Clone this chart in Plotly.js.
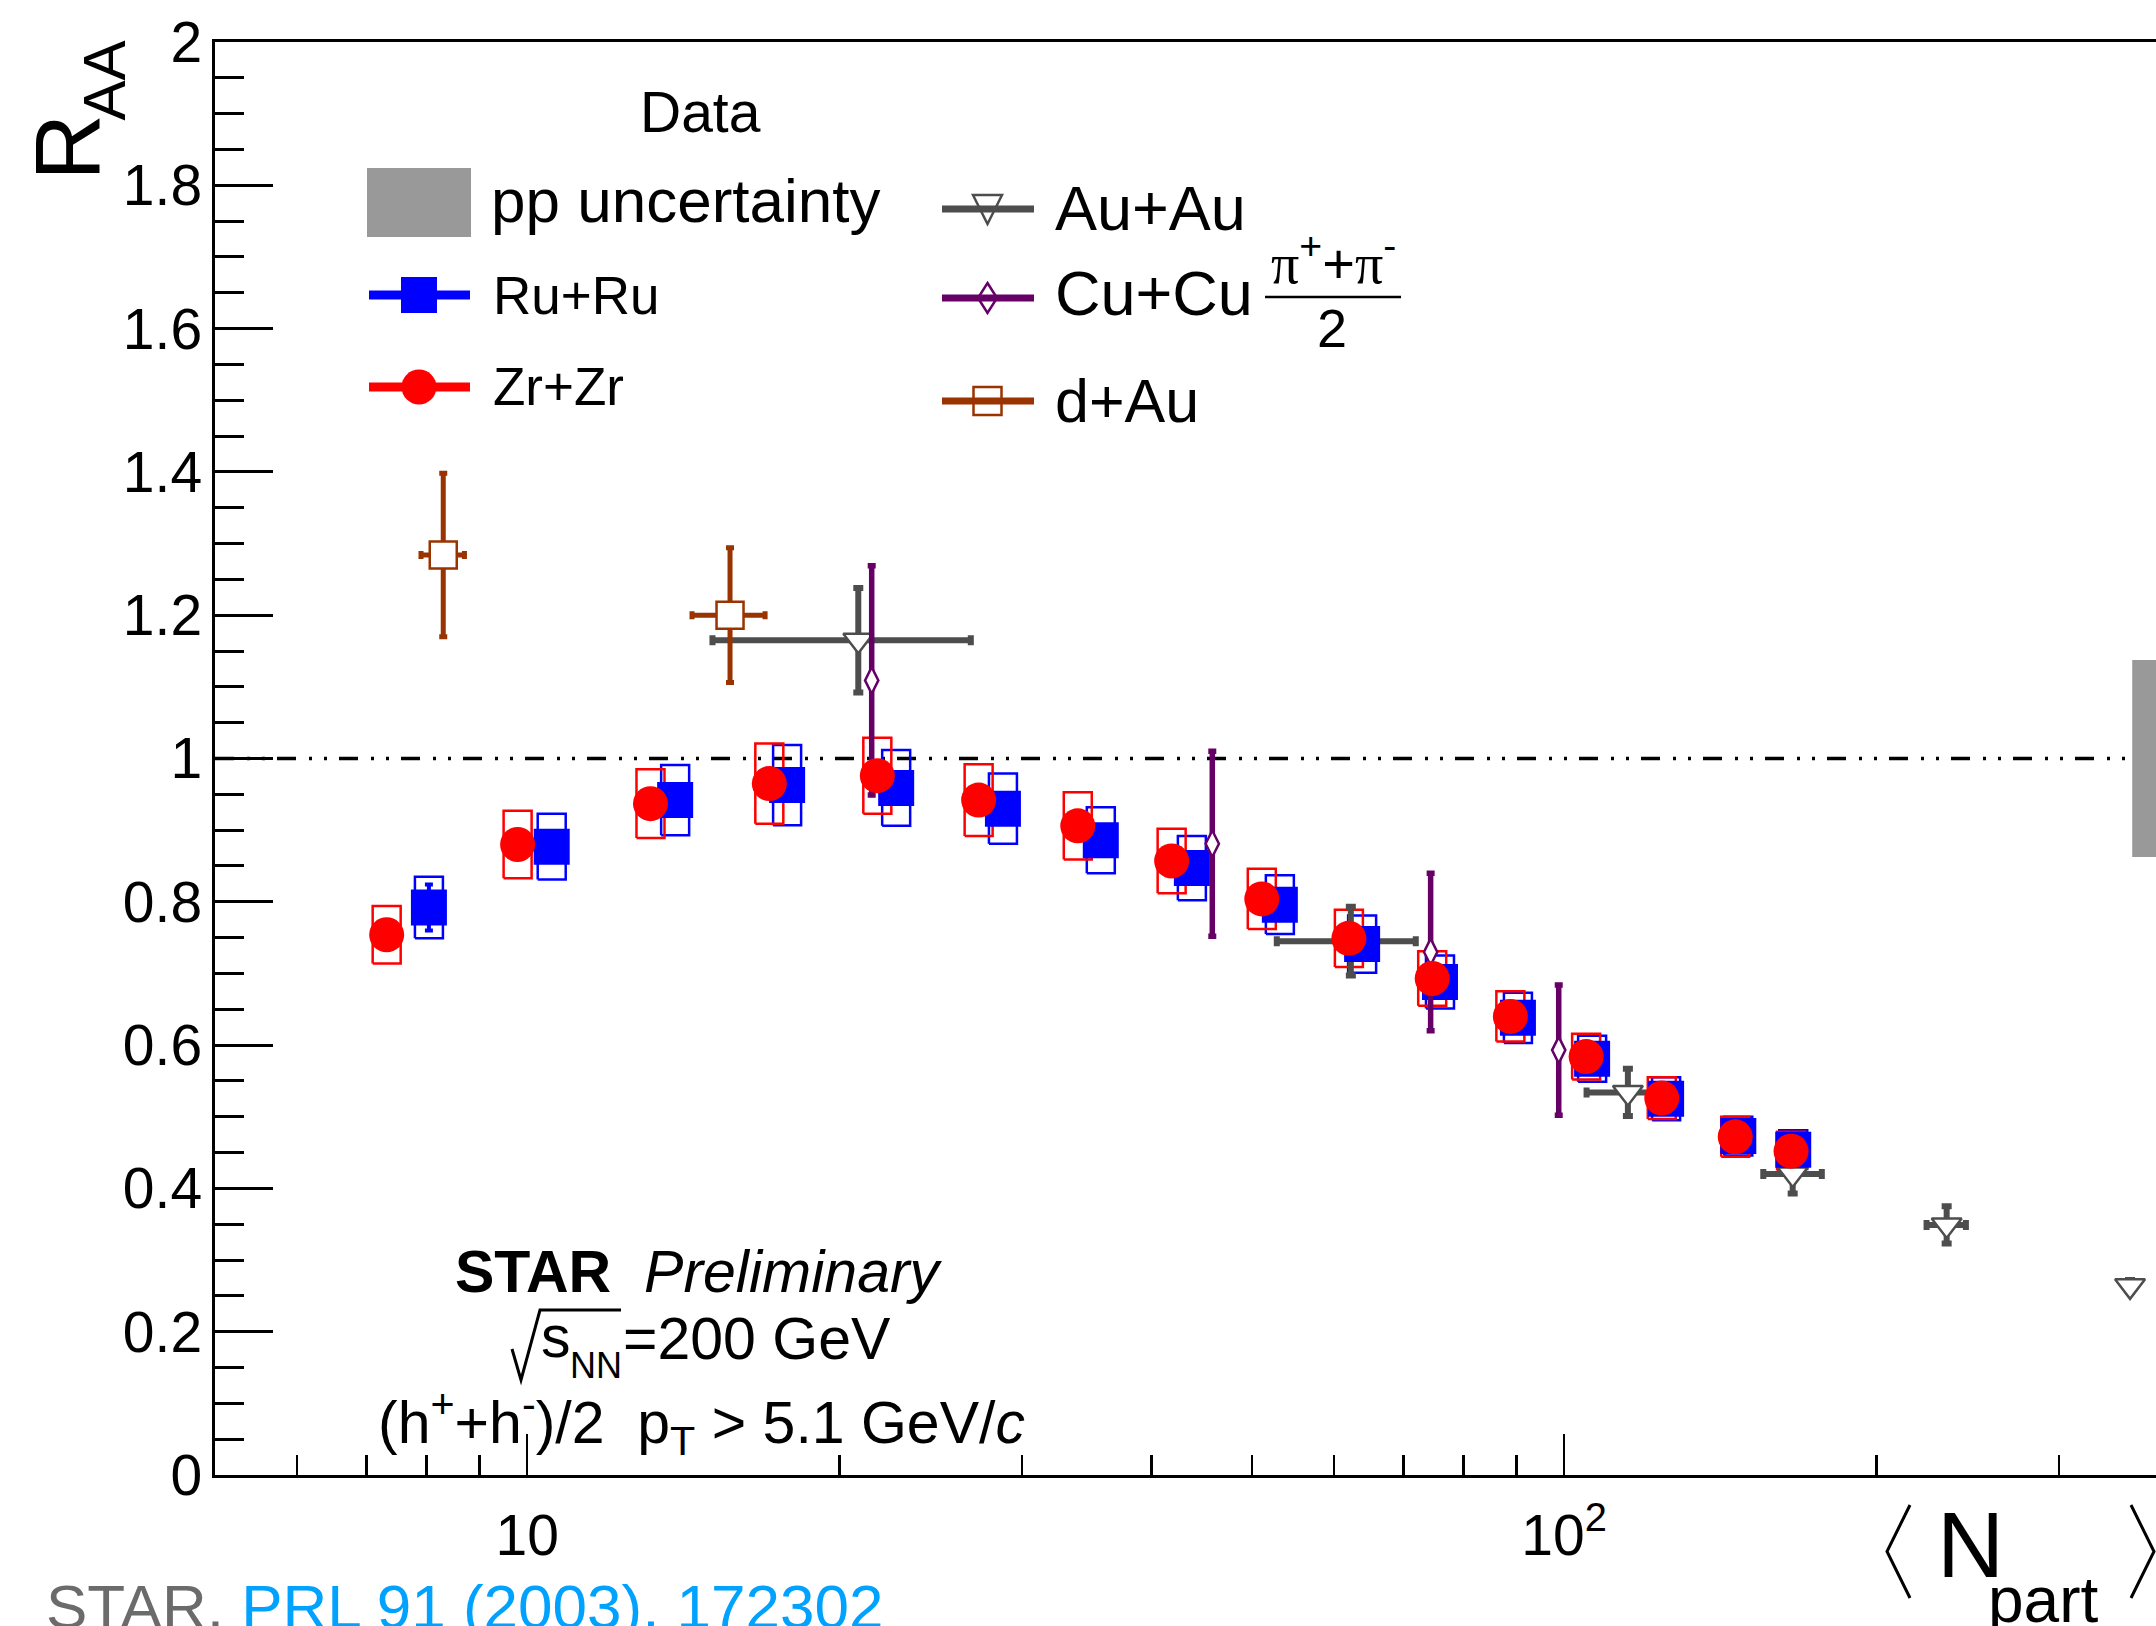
<!DOCTYPE html>
<html><head><meta charset="utf-8">
<script src="https://cdn.plot.ly/plotly-3.0.1.min.js"></script>
<style>html,body{margin:0;padding:0;background:#fff;overflow:hidden}</style>
</head><body><div id="chart" style="width:2156px;height:1626px"></div>
<script>
// ---------------- data ----------------
const ruNpart = [8.04, 10.56, 13.89, 17.81, 22.69, 28.76, 35.74, 43.75, 53.19, 63.85, 75.9, 90.24, 106.4, 125.4, 147.2, 166.3];
const ruRaa   = [0.792, 0.877, 0.942, 0.963, 0.959, 0.930, 0.886, 0.847, 0.796, 0.741, 0.688, 0.638, 0.581, 0.525, 0.473, 0.454];
const ruSys   = [0.043, 0.046, 0.049, 0.056, 0.053, 0.049, 0.046, 0.045, 0.041, 0.040, 0.037, 0.035, 0.032, 0.030, 0.027, 0.027];
const ruStat  = [0.032, 0.012, 0.012, 0.012, 0.012, 0.012, 0.011, 0.011, 0.010, 0.010, 0.009, 0.009, 0.008, 0.008, 0.007, 0.007];

const zrNpart = [7.32, 9.79, 13.15, 17.12, 21.76, 27.25, 33.96, 41.83, 51.1, 62.0, 74.6, 88.74, 105.0, 124.2, 146.2, 165.5];
const zrRaa   = [0.754, 0.880, 0.937, 0.965, 0.976, 0.942, 0.906, 0.857, 0.804, 0.749, 0.693, 0.640, 0.584, 0.526, 0.472, 0.452];
const zrSys   = [0.040, 0.047, 0.048, 0.056, 0.053, 0.050, 0.047, 0.045, 0.042, 0.040, 0.038, 0.035, 0.032, 0.029, 0.028, 0.027];
const zrStat  = [0.018, 0.012, 0.012, 0.012, 0.012, 0.012, 0.011, 0.011, 0.010, 0.010, 0.009, 0.009, 0.008, 0.008, 0.007, 0.007];

const auNpart      = [20.86, 62.27, 115.2, 166.1, 233.8, 351.3];
const auNpartErrLo = [5.77, 9.44, 10.1, 10.5, 10.2, 0];
const auNpartErrHi = [5.92, 9.66, 10.3, 11.1, 10.2, 0];
const auRaa        = [1.165, 0.745, 0.534, 0.420, 0.349, 0.264];
const auErr        = [0.073, 0.048, 0.033, 0.027, 0.026, 0.008];

const cuNpart = [21.49, 45.78, 74.34, 98.8];
const cuRaa   = [1.109, 0.881, 0.730, 0.593];
const cuErr   = [0.160, 0.129, 0.110, 0.091];

const dauNpart    = [8.30, 15.69];
const dauNpartErr = [0.40, 1.27];
const dauRaa      = [1.284, 1.200];
const dauErr      = [0.114, 0.094];

const ppNpartEdges = [353, 420];
const ppCenter = 1.0;
const ppUnc    = 0.1375;

const xTickVals  = [10, 100];
const xTickText  = ['10', '10<sup>2</sup>'];
const xMinorVals = [6, 7, 8, 9, 20, 30, 40, 50, 60, 70, 80, 90, 200, 300];

// ---------------- page geometry / styles ----------------
const W = 2156, H = 1626, L = 215, T = 42, R = 0, B = 151;
const PW = W - L - R, PH = H - T - B;
const px = x => (x - L) / PW;
const py = y => (H - B - y) / PH;
const SANS = 'Liberation Sans, Arial, Helvetica, sans-serif';
const NARROW = 'Liberation Sans Narrow, Liberation Sans, Arial, sans-serif';
const SERIF = 'Liberation Serif, Times New Roman, serif';
const C_RU = '#0000ff', C_ZR = '#ff0000', C_AU = '#4d4d4d', C_CU = '#660066', C_DAU = '#993300';

// systematic box half-width in decades (constant pixel width)
const XMIN = Math.log10(5), DECPX = 1037;
const XMAX = XMIN + PW / DECPX;
const boxHalf = 14 / DECPX;

function sysBoxes(xs, ys, es) {
  const bx = [], by = [];
  const f = Math.pow(10, boxHalf);
  xs.forEach((x, i) => {
    const x0 = x / f, x1 = x * f, y0 = ys[i] - es[i], y1 = ys[i] + es[i];
    bx.push(x0, x1, x1, x0, x0, null);
    by.push(y0, y0, y1, y1, y0, null);
  });
  return {bx, by};
}
const ruBox = sysBoxes(ruNpart, ruRaa, ruSys);
const zrBox = sysBoxes(zrNpart, zrRaa, zrSys);

const traces = [
  {x: ruBox.bx, y: ruBox.by, mode: 'lines', line: {color: C_RU, width: 2.5}, hoverinfo: 'skip', showlegend: false},
  {x: zrBox.bx, y: zrBox.by, mode: 'lines', line: {color: C_ZR, width: 2.5}, hoverinfo: 'skip', showlegend: false},
  {x: auNpart, y: auRaa, mode: 'markers', name: 'Au+Au',
   error_y: {type: 'data', array: auErr, color: C_AU, thickness: 6, width: 5},
   error_x: {type: 'data', array: auNpartErrHi, arrayminus: auNpartErrLo, color: C_AU, thickness: 6, width: 5},
   marker: {symbol: 'triangle-down', size: 26, color: '#ffffff', line: {color: C_AU, width: 2.5}}},
  {x: dauNpart, y: dauRaa, mode: 'markers', name: 'd+Au',
   error_y: {type: 'data', array: dauErr, color: C_DAU, thickness: 5, width: 4},
   error_x: {type: 'data', array: dauNpartErr, color: C_DAU, thickness: 5, width: 4},
   marker: {symbol: 'square', size: 27, color: '#ffffff', line: {color: C_DAU, width: 2.5}}},
  {x: ruNpart, y: ruRaa, mode: 'markers', name: 'Ru+Ru',
   error_y: {type: 'data', array: ruStat, color: C_RU, thickness: 4, width: 4},
   marker: {symbol: 'square', size: 36, color: C_RU}},
  {x: cuNpart, y: cuRaa, mode: 'markers', name: 'Cu+Cu',
   error_y: {type: 'data', array: cuErr, color: C_CU, thickness: 5.5, width: 4},
   marker: {symbol: 'diamond-tall', size: 19, color: '#ffffff', line: {color: C_CU, width: 2.5}}},
  {x: zrNpart, y: zrRaa, mode: 'markers', name: 'Zr+Zr',
   error_y: {type: 'data', array: zrStat, color: C_ZR, thickness: 4, width: 4},
   marker: {symbol: 'circle', size: 35, color: C_ZR}}
];

function txt(text, x, y, size, opts) {
  return Object.assign({text: text, x: px(x), y: py(y), xref: 'paper', yref: 'paper', showarrow: false,
    font: {family: SANS, size: size, color: '#000'}, xanchor: 'center', yanchor: 'middle', borderpad: 0}, opts || {});
}
function pline(x0, y0, x1, y1, color, width) {
  return {type: 'line', xref: 'paper', yref: 'paper', x0: px(x0), y0: py(y0), x1: px(x1), y1: py(y1),
    line: {color: color, width: width}, layer: 'above'};
}
function ppath(pts, color, width, fill, close) {
  const d = pts.map((p, i) => (i ? 'L' : 'M') + px(p[0]) + ',' + py(p[1])).join(' ') + (close ? ' Z' : '');
  return {type: 'path', xref: 'paper', yref: 'paper', path: d, line: {color: color, width: width},
    fillcolor: fill || 'rgba(0,0,0,0)', layer: 'above'};
}
function prect(x0, y0, x1, y1, lineColor, lineWidth, fill, type) {
  return {type: type || 'rect', xref: 'paper', yref: 'paper', x0: px(x0), y0: py(y1), x1: px(x1), y1: py(y0),
    line: {color: lineColor, width: lineWidth}, fillcolor: fill || 'rgba(0,0,0,0)', layer: 'above'};
}

const shapes = [
  // pp uncertainty band (data)
  {type: 'rect', xref: 'x', yref: 'y', x0: ppNpartEdges[0], x1: ppNpartEdges[1], y0: ppCenter - ppUnc, y1: ppCenter + ppUnc,
   fillcolor: '#999999', line: {width: 0}, layer: 'below'},
  // unity reference line
  {type: 'line', xref: 'paper', yref: 'y', x0: 0, x1: 1, y0: 1, y1: 1,
   line: {color: '#000', width: 3.5, dash: '19px,13px,3px,12px,3px,12px'}, layer: 'below'},
  // legend: left column
  prect(367, 168, 471, 237, 'rgba(0,0,0,0)', 0, '#999999'),
  pline(369, 295, 470, 295, C_RU, 9),
  prect(401, 277, 437, 313, C_RU, 0, C_RU),
  pline(369, 387, 470, 387, C_ZR, 9),
  prect(401.5, 369.5, 436.5, 404.5, C_ZR, 0, C_ZR, 'circle'),
  // legend: right column
  pline(942, 209, 1034, 209, C_AU, 7),
  ppath([[973, 195], [1002, 195], [987.5, 224]], C_AU, 2.5, null, true),
  pline(942, 298, 1034, 298, C_CU, 7),
  ppath([[987.5, 283], [997, 298], [987.5, 313], [978, 298]], C_CU, 2.5, null, true),
  pline(942, 401, 1034, 401, C_DAU, 7),
  prect(973.5, 387, 1001.5, 415, C_DAU, 2.5, null),
  // fraction bar
  pline(1265, 297, 1401, 297, '#000', 2.5),
  // square root sign
  ppath([[512, 1349], [521, 1380], [540, 1310], [621, 1310]], '#000', 3, null, false),
  // angle brackets of x title
  ppath([[1910, 1505], [1887, 1551.5], [1910, 1598]], '#000', 3, null, false),
  ppath([[2131, 1505], [2154, 1551.5], [2131, 1598]], '#000', 3, null, false)
];

const annotations = [
  txt('Data', 700, 112.5, 57),
  txt('pp uncertainty', 490, 200, 62, {xanchor: 'left'}),
  txt('Ru+Ru', 492, 295, 53, {xanchor: 'left'}),
  txt('Zr+Zr', 492, 386, 53, {xanchor: 'left'}),
  txt('Au+Au', 1054, 208, 63, {xanchor: 'left'}),
  txt('Cu+Cu', 1054, 293, 63, {xanchor: 'left'}),
  txt('d+Au', 1054, 401, 61, {xanchor: 'left'}),
  txt('<span style="font-family:' + SERIF + '">\u03c0</span><sup>+</sup>+<span style="font-family:' + SERIF + '">\u03c0</span><sup>-</sup>',
      1333, 296, 56, {yanchor: 'bottom'}),
  txt('2', 1332, 327.5, 54),
  txt('<b>STAR</b>\u00a0\u00a0<i>Preliminary</i>', 699, 1271.5, 59),
  txt('s', 540, 1336.6, 59, {xanchor: 'left'}),
  txt('NN', 569, 1365.5, 36, {xanchor: 'left'}),
  txt('=200 GeV', 622, 1338.6, 59, {xanchor: 'left'}),
  txt('(h<sup>+</sup>+h<sup>-</sup>)/2\u00a0\u00a0p<sub>T</sub> &gt; 5.1 GeV/<i>c</i>', 701.5, 1422, 59),
  txt('<span style="color:#6b6b6b">STAR,</span> <span style="color:#00a2ff">PRL 91 (2003), 172302</span>', 45, 1606, 62, {xanchor: 'left'}),
  // axis titles
  txt('R', 67, 147.5, 92, {textangle: -90, font: {family: NARROW, size: 92, color: '#000'}}),
  txt('AA', 104, 80.5, 60, {textangle: -90}),
  txt('N', 1970, 1545, 93, {font: {family: NARROW, size: 93, color: '#000'}}),
  txt('part', 2043.5, 1600, 64)
];

const layout = {
  width: W, height: H,
  margin: {l: L, r: R, t: T, b: B, pad: 0},
  paper_bgcolor: '#ffffff', plot_bgcolor: '#ffffff',
  showlegend: false, hovermode: false,
  font: {family: SANS, color: '#000'},
  xaxis: {type: 'log', range: [XMIN, XMAX], showgrid: false, zeroline: false,
    showline: true, linecolor: '#000', linewidth: 3, mirror: true,
    tickmode: 'array', tickvals: xTickVals, ticktext: xTickText,
    ticks: 'inside', ticklen: 41, tickwidth: 2.5, tickcolor: '#000',
    tickfont: {family: SANS, size: 57, color: '#000'}, ticklabelstandoff: 9,
    minor: {tickmode: 'array', tickvals: xMinorVals, ticks: 'inside', ticklen: 20, tickwidth: 2.5, tickcolor: '#000', showgrid: false}},
  yaxis: {range: [0, 2], showgrid: false, zeroline: false,
    showline: true, linecolor: '#000', linewidth: 3.5, mirror: false,
    tick0: 0, dtick: 0.2, ticks: 'inside', ticklen: 58, tickwidth: 3, tickcolor: '#000',
    tickfont: {family: SANS, size: 57, color: '#000'}, ticklabelstandoff: -2,
    minor: {dtick: 0.05, ticks: 'inside', ticklen: 29, tickwidth: 3, tickcolor: '#000', showgrid: false}},
  shapes: shapes,
  annotations: annotations
};

Plotly.newPlot('chart', traces, layout, {displayModeBar: false, staticPlot: true});
</script>
</body></html>
